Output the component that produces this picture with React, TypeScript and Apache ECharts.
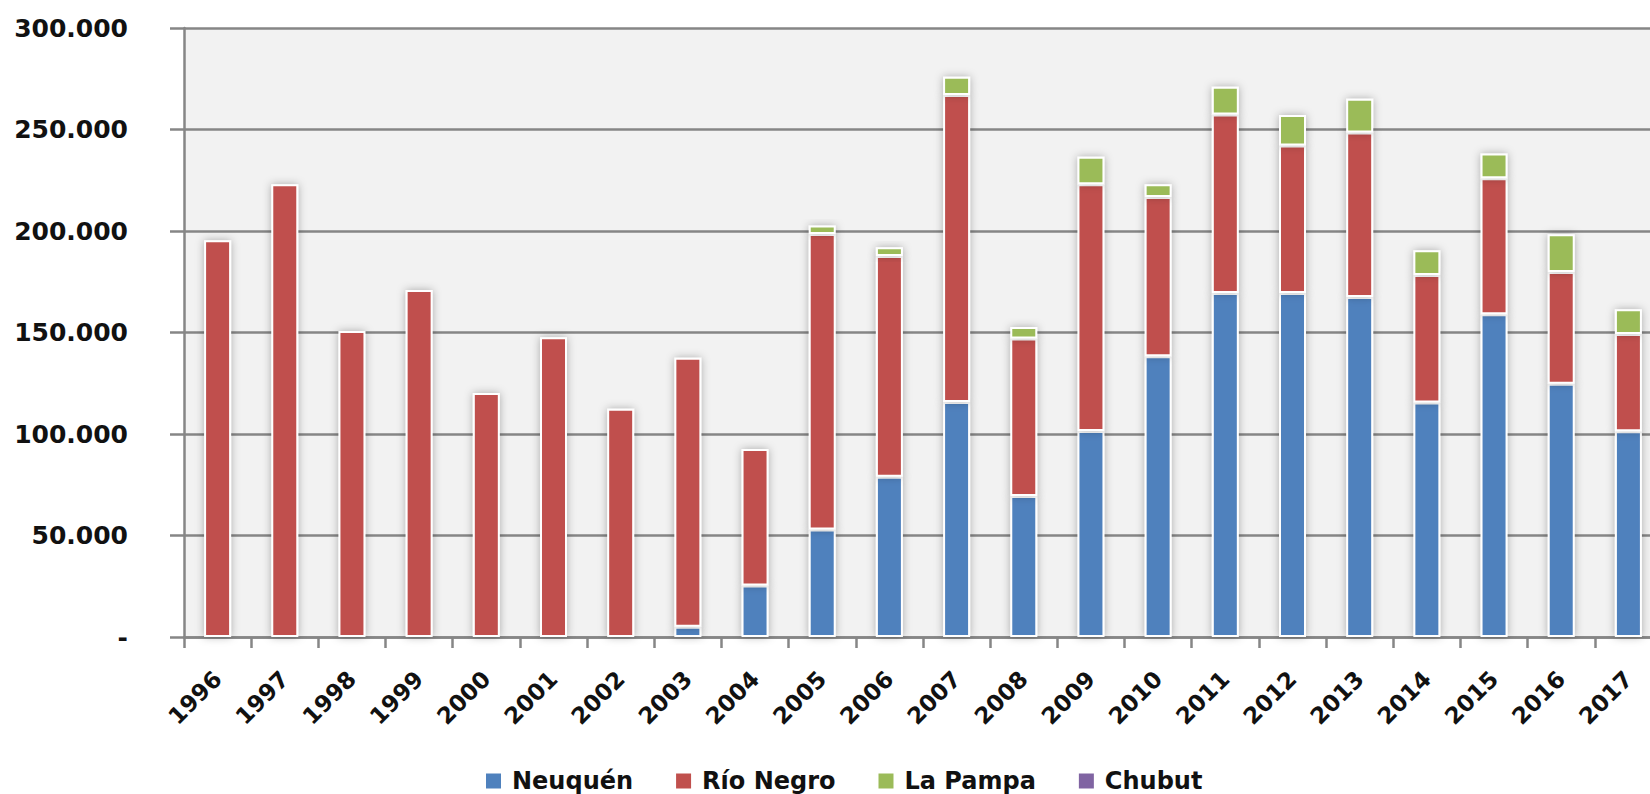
import React, { useEffect, useRef } from "react";
import * as echarts from "echarts";

const years = ["1996","1997","1998","1999","2000","2001","2002","2003","2004","2005","2006","2007","2008","2009","2010","2011","2012","2013","2014","2015","2016","2017"];
const neuquen = [0,0,0,0,0,0,0,5000,25400,52900,78900,115800,69500,101500,138300,169400,169400,167500,115500,159000,124700,101400];
const rioNegro = [195400,223000,150700,170900,120200,147700,112400,132600,67200,145600,108800,151200,77500,121500,78500,88000,72700,81000,62800,67000,55100,47800];
const laPampa = [0,0,0,0,0,0,0,0,0,4200,4300,9000,5700,13600,6200,13600,15100,16600,12200,12200,18600,12200];
const chubut = [0,0,0,0,0,0,0,0,0,0,0,0,0,0,0,0,0,0,0,0,0,0];
const yTicks = { min: 0, max: 300000, interval: 50000 };

const seriesDefs = [
  { name: "Neuquén", data: neuquen, color: "#4f81bd" },
  { name: "Río Negro", data: rioNegro, color: "#c0504d" },
  { name: "La Pampa", data: laPampa, color: "#9bbb59" },
  { name: "Chubut", data: chubut, color: "#8064a2" },
];

const FONT = "DejaVu Sans";

function fmt(v: number): string {
  if (v === 0) return "-";
  return String(v).replace(/\B(?=(\d{3})+(?!\d))/g, ".");
}

export default function App() {
  const ref = useRef<HTMLDivElement>(null);
  useEffect(() => {
    if (!ref.current) return;
    const chart = echarts.init(ref.current, undefined, { renderer: "svg" });
    chart.setOption({
      animation: false,
      backgroundColor: "#ffffff",
      grid: {
        left: 184,
        right: 0,
        top: 28,
        bottom: 157,
        show: true,
        backgroundColor: "#f2f2f2",
        borderWidth: 0,
        containLabel: false,
      },
      legend: {
        left: 486,
        top: 769,
        padding: 0,
        icon: "rect",
        itemWidth: 15,
        itemHeight: 15,
        itemGap: 43,
        itemStyle: { borderWidth: 0, shadowBlur: 0 },
        textStyle: {
          fontFamily: FONT,
          fontSize: 24,
          lineHeight: 24,
          fontWeight: "bold",
          color: "#111",
          padding: [0, 0, 0, 6],
        },
        data: seriesDefs.map((s) => s.name),
      },
      xAxis: {
        type: "category",
        data: years,
        axisLine: { show: true, lineStyle: { color: "#868686", width: 2.5 } },
        axisTick: { show: true, alignWithLabel: false, length: 11, lineStyle: { color: "#868686", width: 2.5 } },
        axisLabel: {
          rotate: 45,
          margin: 38,
          interval: 0,
          fontFamily: FONT,
          fontSize: 23,
          fontWeight: "bold",
          color: "#111",
        },
        splitLine: { show: false },
      },
      yAxis: {
        type: "value",
        min: yTicks.min,
        max: yTicks.max,
        interval: yTicks.interval,
        axisLine: { show: true, lineStyle: { color: "#868686", width: 2.5 } },
        axisTick: { show: true, length: 14, lineStyle: { color: "#868686", width: 2.5 } },
        axisLabel: {
          margin: 56,
          fontFamily: FONT,
          fontSize: 25,
          fontWeight: "bold",
          color: "#111",
          formatter: (v: number) => fmt(v),
        },
        splitLine: { show: true, lineStyle: { color: "#868686", width: 2.5 } },
      },
      series: seriesDefs.map((s) => ({
        name: s.name,
        type: "bar",
        stack: "total",
        barWidth: 27,
        data: s.data,
        itemStyle: {
          color: s.color,
          borderColor: "#ffffff",
          borderWidth: 2,
          shadowBlur: 8,
          shadowColor: "rgba(0,0,0,0.3)",
          shadowOffsetX: 0,
          shadowOffsetY: 0,
        },
      })),
    });
    return () => chart.dispose();
  }, []);
  return (
    <div style={{ position: "absolute", left: 0, top: 0, width: 1650, height: 794, overflow: "hidden" }}>
      <div ref={ref} style={{ width: 1662, height: 794 }} />
    </div>
  );
}
